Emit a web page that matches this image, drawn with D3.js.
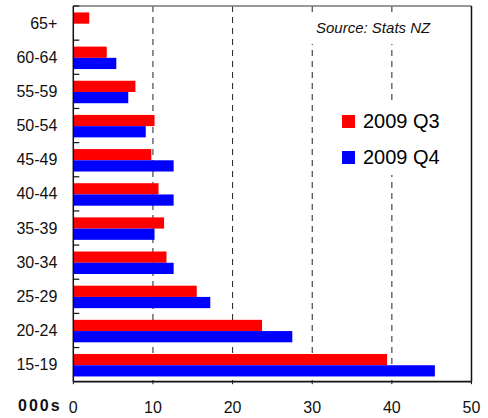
<!DOCTYPE html>
<html><head><meta charset="utf-8">
<script src="https://cdn.jsdelivr.net/npm/d3@7"></script>
<style>body{margin:0;background:#fff}svg{display:block}text{font-family:Arial,"Liberation Sans",sans-serif}</style>
</head><body><svg id="c" width="488" height="418"></svg>
<script>
const categories = ["65+","60-64","55-59","50-54","45-49","40-44","35-39","30-34","25-29","20-24","15-19"];
const seriesNames = ["2009 Q3","2009 Q4"];
const q3 = [2.0,4.2,7.8,10.2,9.8,10.7,11.4,11.7,15.5,23.7,39.4];
const q4 = [0,5.4,6.9,9.1,12.6,12.6,10.2,12.6,17.2,27.5,45.4];
const xTicks = [0,10,20,30,40,50];
const colors = ["#ff0000","#0000ff"];

const svg = d3.select("#c");
const L = 73.3, R = 471.5, T = 6, B = 381.7;
const x = d3.scaleLinear().domain([0,50]).range([L,R]);
const y = d3.scaleBand().domain(categories).range([T,B]);
const inner = d3.scaleBand().domain([0,1]).range([0,y.bandwidth()]).paddingOuter(0.52);

// gridlines
svg.append("g").selectAll("line").data(xTicks.filter(d=>d>0&&d<50)).join("line")
  .attr("x1",d=>x(d)).attr("x2",d=>x(d)).attr("y1",T).attr("y2",B)
  .attr("stroke","#222").attr("stroke-width",1).attr("stroke-dasharray","6,5");

// source label background + text
svg.append("rect").attr("x",300).attr("y",15).attr("width",150).attr("height",29).attr("fill","#fff");
svg.append("text").attr("x",316).attr("y",33).attr("font-size",15).attr("font-style","italic").attr("fill","#111").text("Source: Stats NZ");

// legend
const lg = svg.append("g");
lg.append("rect").attr("x",325).attr("y",102).attr("width",130).attr("height",73).attr("fill","#fff");
seriesNames.forEach((s,i)=>{
  lg.append("rect").attr("x",342).attr("y",115+i*36).attr("width",13).attr("height",13).attr("fill",colors[i]);
  lg.append("text").attr("x",363).attr("y",128+i*36).attr("font-size",20).attr("fill","#000").text(s);
});

// bars
const data = categories.map((c,i)=>({c,vals:[q3[i],q4[i]]}));
const g = svg.append("g");
data.forEach(d=>{
  d.vals.forEach((v,j)=>{
    if(v<=0) return;
    g.append("rect").attr("x",x(0)).attr("y",y(d.c)+inner(j)+0.6).attr("width",x(v)-x(0))
      .attr("height",inner.bandwidth()).attr("fill",colors[j]);
  });
});

// frame
svg.append("line").attr("x1",L).attr("x2",R).attr("y1",T).attr("y2",T).attr("stroke","#777").attr("stroke-width",1.5);
svg.append("line").attr("x1",R).attr("x2",R).attr("y1",T).attr("y2",B).attr("stroke","#111").attr("stroke-width",1.5);

// y axis
const ya = svg.append("g").attr("transform",`translate(${L},0)`);
ya.append("line").attr("x1",0).attr("x2",0).attr("y1",T).attr("y2",B).attr("stroke","#111").attr("stroke-width",1.5);
ya.selectAll(".tk").data(categories).join("line").attr("class","tk")
  .attr("x1",0).attr("x2",6).attr("y1",d=>y(d)).attr("y2",d=>y(d)).attr("stroke","#111").attr("stroke-width",1.2);
ya.selectAll("text").data(categories).join("text")
  .attr("x",-16).attr("y",d=>y(d)+y.bandwidth()/2+5.5).attr("text-anchor","end")
  .attr("font-size",16).attr("fill","#111").text(d=>d);

// x axis
const xa = svg.append("g");
xa.append("line").attr("x1",L).attr("x2",R).attr("y1",B).attr("y2",B).attr("stroke","#111").attr("stroke-width",1.8);
xa.selectAll(".tk").data(xTicks).join("line").attr("class","tk")
  .attr("x1",d=>x(d)).attr("x2",d=>x(d)).attr("y1",B).attr("y2",B+2.5).attr("stroke","#111");
xa.selectAll("text").data(xTicks).join("text")
  .attr("x",d=>x(d)).attr("y",412.5).attr("text-anchor","middle").attr("font-size",16).attr("fill","#111").text(d=>d);
svg.append("text").attr("x",18).attr("y",411).attr("font-size",16).attr("font-weight","bold").attr("letter-spacing",2).attr("fill","#111").text("000s");
</script></body></html>
